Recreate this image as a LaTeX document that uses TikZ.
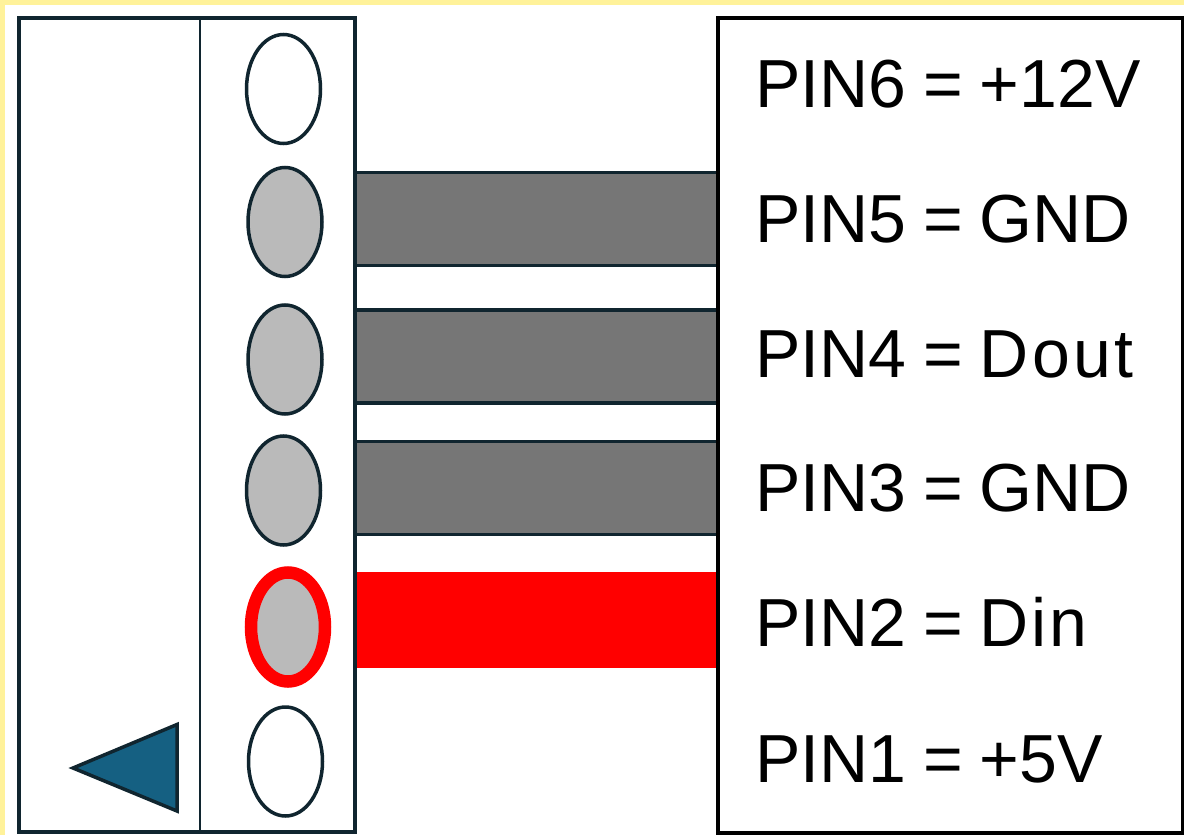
\documentclass[tikz,border=0pt]{standalone}
\usepackage{fontspec}
\setmainfont[WordSpace=0.9]{Liberation Sans}
\usetikzlibrary{shapes.geometric}
\definecolor{paleyellow}{HTML}{FFF29A}
\definecolor{darkline}{HTML}{10252F}
\definecolor{wiregray}{HTML}{767676}
\definecolor{pinfill}{HTML}{BABABA}
\definecolor{markblue}{HTML}{156082}
\tikzset{
  x=1pt,y=-1pt,
  box/.style={draw=darkline,line width=4pt,fill=white,rectangle,inner sep=0pt,outer sep=0pt},
  pinoval/.style={ellipse,draw=darkline,line width=3.5pt,inner sep=0pt,outer sep=0pt,minimum width=74pt,minimum height=109pt},
  wire/.style={rectangle,draw=darkline,line width=3.5pt,fill=wiregray,inner sep=0pt,outer sep=0pt,minimum width=363pt,minimum height=93pt},
  pinlabel/.style={anchor=base west,inner sep=0pt,outer sep=0pt,text=black,font=\fontsize{68pt}{68pt}\selectfont}
}
\begin{document}
\begin{tikzpicture}
\useasboundingbox (0,0) rectangle (1184,835);
\fill[paleyellow] (0,0) rectangle (1184,835);
\fill[white] (5,5) rectangle (1184,835);
% connector housing
\node[box,minimum width=336pt,minimum height=814pt] (housing) at (187,425) {};
\coordinate (divtop) at (199.5,18);
\coordinate (divbot) at (199.5,832);
\draw[darkline,line width=2pt] (divtop) -- (divbot);
% wires
\node[wire] (w5) at (536.5,219) {};
\node[wire] (w4) at (536.5,356.5) {};
\node[wire] (w3) at (536.5,488) {};
\node[rectangle,fill=red,inner sep=0pt,outer sep=0pt,minimum width=361pt,minimum height=96pt] (w2) at (537.5,620) {};
% right panel
\node[box,draw=black,minimum width=465pt,minimum height=815pt] (panel) at (950.5,425.5) {};
% pins
\node[pinoval,fill=white] (p6) at (283.5,89) {};
\node[pinoval,fill=pinfill] (p5) at (285,222) {};
\node[pinoval,fill=pinfill] (p4) at (285,359.5) {};
\node[pinoval,fill=pinfill] (p3) at (283.5,490.5) {};
\node[pinoval,fill=pinfill,draw=red,line width=12.5pt] (p2) at (288,627) {};
\node[pinoval,fill=white] (p1) at (285.5,761.5) {};
% marker
\coordinate (ta) at (73,768);
\coordinate (tb) at (177,724.5);
\coordinate (tc) at (177,811);
\draw[darkline,line width=3.5pt,fill=markblue,line join=miter] (ta) -- (tb) -- (tc) -- cycle;
% labels
\node[pinlabel] (l6) at (755,107) {PIN6 = +12V};
\node[pinlabel] (l5) at (755,242) {PIN5 = GND};
\node[pinlabel] (l4) at (755,377) {PIN4 = {\addfontfeature{LetterSpace=5}Dout}};
\node[pinlabel] (l3) at (755,511) {PIN3 = GND};
\node[pinlabel] (l2) at (755,646) {PIN2 = {\addfontfeature{LetterSpace=4}Din}};
\node[pinlabel] (l1) at (755,782) {PIN1 = +5V};
\end{tikzpicture}
\end{document}
